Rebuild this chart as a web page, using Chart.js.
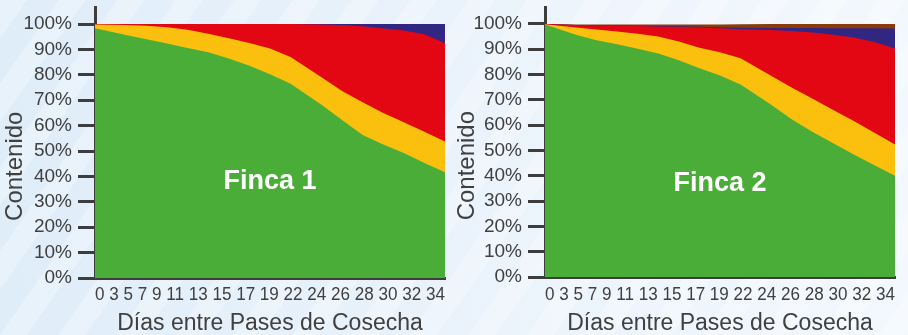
<!DOCTYPE html>
<html lang="es">
<head>
<meta charset="utf-8">
<title>Contenido según días entre pases de cosecha</title>
<script src="https://cdn.jsdelivr.net/npm/chart.js@4.4.1/dist/chart.umd.min.js"></script>
<style>
  html, body { margin: 0; padding: 0; }
  body {
    width: 908px; height: 335px; overflow: hidden; position: relative;
    background:
      repeating-linear-gradient(125deg, rgba(255,255,255,0.28) 0 22px, rgba(255,255,255,0) 22px 48px),
      linear-gradient(90deg, #dfedf9 0%, #e9f2fb 45%, #f3f8fd 100%);
  }
  .panel { position: absolute; top: 0; width: 454px; height: 335px; }
  #p1 { left: 0; }
  #p2 { left: 454px; }
</style>
</head>
<body>
<div class="panel" id="p1"><canvas id="c1" width="454" height="335"></canvas></div>
<div class="panel" id="p2"><canvas id="c2" width="454" height="335"></canvas></div>
<script>
// Days between harvest passes (x values) and their tick labels
const days = [0, 3, 5, 7, 9, 11, 13, 15, 17, 19, 22, 24, 26, 28, 30, 32, 34];
const dayLabels = ['0', '3', '5', '7', '9', '11', '13', '15', '17', '19', '22', '24', '26', '28', '30', '32', '34'];
const percentTicks = [0, 10, 20, 30, 40, 50, 60, 70, 80, 90, 100];

// Finca 1 – share of each fraction (%) per day
const verde1    = [98.3, 95.7, 94.0, 92.3, 90.6, 88.9, 86.4, 83.6, 80.2, 76.5, 68.2, 62.2, 56.3, 52.6, 49.2, 45.3, 41.6];
const amarillo1 = [1.5, 3.9, 5.3, 6.4, 7.1, 7.3, 8.0, 8.9, 10.2, 10.5, 10.8, 11.4, 12.9, 12.4, 12.1, 12.3, 12.1];
const rojo1     = [0.2, 0.4, 0.7, 1.3, 2.3, 3.8, 5.6, 7.5, 9.6, 13.0, 20.8, 26.0, 29.9, 33.2, 36.1, 38.4, 38.7];
const azul1     = [0, 0, 0, 0, 0, 0, 0, 0, 0, 0, 0.2, 0.4, 0.9, 1.8, 2.6, 4.0, 7.6];
const cafe1     = [0, 0, 0, 0, 0, 0, 0, 0, 0, 0, 0, 0, 0, 0, 0, 0, 0];

// Finca 2 – share of each fraction (%) per day
const verde2    = [99.8, 95.7, 93.6, 92.0, 90.2, 88.3, 85.7, 82.5, 79.6, 76.1, 68.0, 62.2, 57.3, 52.9, 48.4, 44.2, 40.0];
const amarillo2 = [0.1, 2.9, 4.2, 5.0, 5.9, 6.7, 7.4, 8.1, 9.2, 10.3, 11.4, 12.6, 13.1, 13.1, 13.2, 12.8, 12.4];
const rojo2     = [0.1, 1.0, 1.6, 2.3, 3.1, 4.0, 5.8, 8.0, 9.5, 11.5, 18.2, 22.4, 26.2, 29.7, 33.0, 35.9, 37.9];
const azul2     = [0, 0, 0.1, 0.1, 0.1, 0.2, 0.2, 0.3, 0.4, 0.6, 0.8, 1.2, 1.8, 2.6, 3.7, 5.4, 7.9];
const cafe2     = [0, 0.2, 0.3, 0.4, 0.5, 0.6, 0.7, 0.9, 1.1, 1.4, 1.6, 1.6, 1.6, 1.7, 1.7, 1.7, 1.8];

const COLORS = { verde: '#4aad37', amarillo: '#fbbf0e', rojo: '#e30613', azul: '#312783', cafe: '#8a3b0c' };
const AXIS = '#3d3d3d';
const TEXT = '#404040';
const FONT = '"Liberation Sans", Arial, Helvetica, sans-serif';

// White panel name and rotated value-axis caption
const panelText = {
  id: 'panelText',
  afterDatasetsDraw(chart, args, opts) {
    const { ctx, scales: { x, y } } = chart;
    ctx.save();
    ctx.fillStyle = '#ffffff';
    ctx.font = 'bold 27px ' + FONT;
    ctx.textAlign = 'center';
    ctx.textBaseline = 'middle';
    ctx.fillText(opts.label, x.getPixelForValue(opts.labelAt[0]), y.getPixelForValue(opts.labelAt[1]));
    ctx.restore();
  },
  afterDraw(chart, args, opts) {
    const { ctx, scales: { y } } = chart;
    ctx.save();
    ctx.translate(opts.captionX, y.getPixelForValue(opts.captionAt));
    ctx.rotate(-Math.PI / 2);
    ctx.fillStyle = TEXT;
    ctx.font = '24px ' + FONT;
    ctx.textAlign = 'center';
    ctx.textBaseline = 'middle';
    ctx.fillText(opts.caption, 0, 0);
    ctx.restore();
  }
};

function series(label, values, color) {
  return {
    label,
    data: days.map((d, i) => ({ x: d, y: values[i] })),
    backgroundColor: color,
    borderColor: color,
    borderWidth: 0,
    pointRadius: 0,
    pointHoverRadius: 0,
    fill: 'origin',
    tension: 0
  };
}

function makeChart(canvasId, name, area, captionX, labelY, s) {
  const W = 454, H = 335;
  const rowBottom = 304;   // bottom of the day-label row
  new Chart(document.getElementById(canvasId), {
    type: 'line',
    data: {
      datasets: [
        series('Verde', s[0], COLORS.verde),
        series('Amarillo', s[1], COLORS.amarillo),
        series('Rojo', s[2], COLORS.rojo),
        series('Azul', s[3], COLORS.azul),
        series('Café', s[4], COLORS.cafe)
      ]
    },
    options: {
      responsive: false,
      animation: false,
      events: [],
      layout: { padding: { top: area.top, right: W - area.right, left: 0, bottom: 0 } },
      plugins: {
        legend: { display: false },
        tooltip: { enabled: false },
        panelText: { label: name, labelAt: [17, labelY], caption: 'Contenido', captionX, captionAt: 44 }
      },
      scales: {
        x: {
          type: 'linear', position: 'bottom', weight: 0,
          min: 0, max: 34,
          grid: { display: false },
          border: { display: true, color: AXIS, width: 3 },
          ticks: { display: false },
          title: {
            display: true, text: dayLabels.join(' '), color: TEXT,
            font: { family: FONT, size: 18, lineHeight: 1 }, padding: 0
          },
          afterFit(sc) { sc.height = rowBottom - area.bottom; }
        },
        x2: {
          type: 'linear', position: 'bottom', weight: 1,
          min: 0, max: 34,
          grid: { display: false },
          border: { display: false },
          ticks: { display: false },
          title: {
            display: true, text: 'Días entre Pases de Cosecha', color: TEXT,
            font: { family: FONT, size: 23, lineHeight: 1 }, padding: 0
          },
          afterFit(sc) { sc.height = H - rowBottom; }
        },
        y: {
          type: 'linear', stacked: true,
          min: 0, max: 106.7,
          afterBuildTicks(sc) { sc.ticks = percentTicks.map(v => ({ value: v })); },
          grid: { display: true, drawOnChartArea: false, drawTicks: true, tickLength: 17, lineWidth: 3, color: AXIS },
          border: { display: true, color: AXIS, width: 3 },
          ticks: {
            color: TEXT, padding: 6,
            font: { family: FONT, size: 19 },
            callback: v => v + '%'
          },
          title: { display: false },
          afterFit(sc) {
            sc.width = area.left;
            // the axis runs past the top label, so no extra room is needed above it
            sc.paddingTop = 0;
            sc.paddingBottom = 0;
          }
        }
      }
    },
    plugins: [panelText]
  });
}

makeChart('c1', 'Finca 1', { left: 95, right: 445, top: 7, bottom: 278 }, 15, 37.8,
  [verde1, amarillo1, rojo1, azul1, cafe1]);
makeChart('c2', 'Finca 2', { left: 91, right: 441, top: 7, bottom: 277 }, 13, 37.1,
  [verde2, amarillo2, rojo2, azul2, cafe2]);
</script>
</body>
</html>
